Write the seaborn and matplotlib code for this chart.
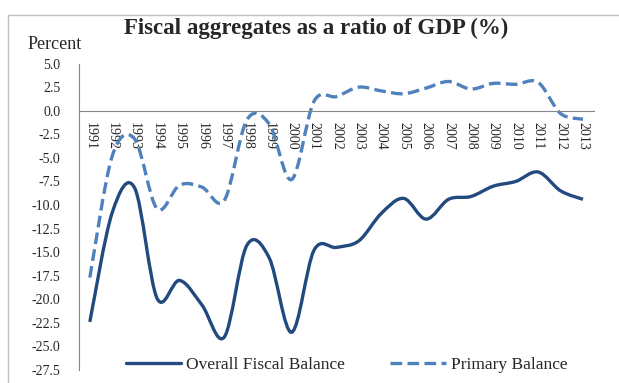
import numpy as np
import pandas as pd
import seaborn as sns
import matplotlib.pyplot as plt
from matplotlib.path import Path
from matplotlib.patches import PathPatch, Rectangle
from matplotlib.lines import Line2D

# data
years = [str(y) for y in range(1991, 2014)]
overall = [-22.4, -10.8, -8.2, -19.9, -18.0, -20.6, -24.0, -14.3, -15.6, -23.5,
           -14.8, -14.5, -13.8, -10.9, -9.3, -11.5, -9.4, -9.1, -8.0, -7.5,
           -6.5, -8.5, -9.4]
primary = [-17.7, -4.8, -3.0, -10.4, -7.9, -8.1, -9.5, -1.0, -1.4, -7.3,
           1.0, 1.5, 2.5, 2.1, 1.8, 2.4, 3.1, 2.3, 2.9, 2.8,
           3.0, -0.3, -0.9]
series_names = ['Overall Fiscal Balance', 'Primary Balance']
colors = ['#234a7e', '#4f81bd']

df = pd.DataFrame({'year': years, series_names[0]: overall, series_names[1]: primary})
long = df.melt(id_vars='year', var_name='series', value_name='value')

sns.set_style("white")
plt.rcParams['font.family'] = ['Liberation Serif', 'DejaVu Serif']
plt.rcParams['axes.unicode_minus'] = False

fig = plt.figure(figsize=(6.19, 3.83), dpi=100)
ax = fig.add_axes([0.127, 0.034, 0.833, 0.80])

sns.lineplot(data=long, x='year', y='value', hue='series', style='series',
             palette=dict(zip(series_names, colors)),
             dashes={series_names[0]: '', series_names[1]: (3.5, 1.6)},
             sort=False, legend=False, ax=ax)


def smooth_path(xy):
    # excel-style smoothed line: bezier segments through the data points
    n = len(xy)
    verts = [xy[0]]
    codes = [Path.MOVETO]
    for i in range(n - 1):
        p0 = xy[i - 1] if i > 0 else xy[i]
        p1, p2 = xy[i], xy[i + 1]
        p3 = xy[i + 2] if i + 2 < n else xy[i + 1]
        verts += [p1 + (p2 - p0) / 6, p2 - (p3 - p1) / 6, p2]
        codes += [Path.CURVE4] * 3
    return Path(verts, codes)


handles = []
for line, name, col in zip(list(ax.lines), series_names, colors):
    xy = line.get_xydata()
    ls = '-' if name == series_names[0] else (0, (3.5, 1.6))
    patch = PathPatch(smooth_path(xy), facecolor='none', edgecolor=col,
                      lw=2.4, linestyle=ls, capstyle='butt')
    ax.add_patch(patch)
    line.remove()
    handles.append(Line2D([], [], color=col, lw=2.4, linestyle=ls, label=name))

ax.set_xlim(-0.5, 22.5)
ax.set_ylim(-27.5, 5.0)
yt = np.arange(-27.5, 5.01, 2.5)
ax.set_yticks(yt)
ax.set_yticklabels([f'{v:.1f}' for v in yt], fontsize=10)
ax.set_xticks(range(len(years)))
ax.set_xticklabels(years, fontsize=11)
ax.set_xticks(np.arange(-0.5, 22.6, 1), minor=True)
ax.tick_params(axis='x', which='major', length=0, pad=8, labelrotation=-90)
ax.tick_params(axis='x', which='minor', length=4, direction='out', color='#868686', width=0.8)
ax.tick_params(axis='y', length=5, direction='out', color='#868686', width=0.8, pad=8)
for t in ax.get_xticklabels():
    t.set_rotation(-90)
    t.set_va('top')
    t.set_ha('center')
ax.set_xlabel('')
ax.set_ylabel('')

for s in ['top', 'right']:
    ax.spines[s].set_visible(False)
ax.spines['bottom'].set_position(('data', 0))
ax.spines['bottom'].set_color('#868686')
ax.spines['left'].set_color('#868686')
ax.spines['bottom'].set_linewidth(0.8)
ax.spines['left'].set_linewidth(0.8)

ax.legend(handles=handles, loc='lower center', bbox_to_anchor=(0.52, -0.06),
          ncol=2, frameon=False, fontsize=12.5, handlelength=3.2,
          handletextpad=0.3, columnspacing=2.6)

fig.text(0.51, 0.925, 'Fiscal aggregates as a ratio of GDP (%)',
         ha='center', va='center', fontsize=16.5, fontweight='bold')
fig.text(0.044, 0.885, 'Percent', ha='left', va='center', fontsize=13)

fig.patches.append(Rectangle((0.013, -0.05), 1.2, 1.012, transform=fig.transFigure,
                             facecolor='none', edgecolor='#bfbfbf', lw=1.0))

plt.savefig('out.png', dpi=100)
plt.clf()
